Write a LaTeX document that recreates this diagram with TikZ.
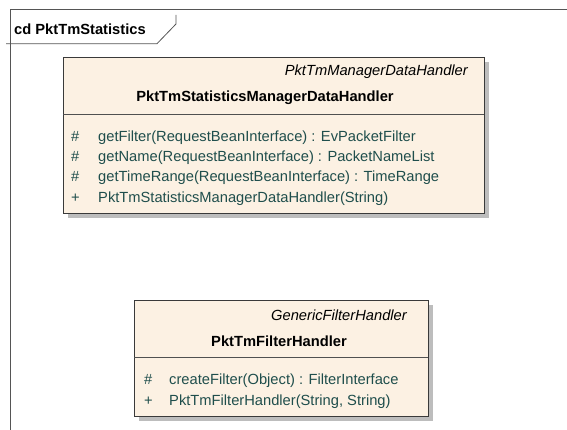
\documentclass[tikz,border=0pt]{standalone}
\usepackage{fontspec}
\setmainfont{Liberation Sans}
\definecolor{boxfill}{HTML}{FCF1E3}
\definecolor{boxline}{HTML}{3A3A3A}
\definecolor{sepline}{HTML}{505050}
\definecolor{frameline}{HTML}{555555}
\definecolor{shadowgray}{HTML}{BDBDBD}
\definecolor{optext}{HTML}{1F4E4C}
\tikzset{
  umlbox/.style={draw=boxline, fill=boxfill, line width=0.9pt},
  umlshadow/.style={fill=shadowgray, draw=none},
  sepstyle/.style={draw=sepline, line width=0.8pt},
  framestyle/.style={draw=frameline, line width=0.8pt},
  txt/.style={inner sep=0pt, font=\fontsize{14.7}{17}\selectfont},
  stereo/.style={txt, anchor=base east, font=\fontsize{14.7}{17}\selectfont\itshape},
  cname/.style={txt, anchor=base, font=\fontsize{14.7}{17}\selectfont\bfseries},
  vis/.style={txt, anchor=base west, text=optext},
  op/.style={txt, anchor=base west, text=optext},
}
\begin{document}
\begin{tikzpicture}[x=1pt,y=-1pt]
\useasboundingbox (0,0) rectangle (567,430);
% frame
\coordinate (ftl) at (10.5,9.5);
\coordinate (ftr) at (567,9.5);
\coordinate (fbl) at (10.5,430);
\coordinate (tabl) at (6,43.7);
\coordinate (tabb) at (157,43.7);
\coordinate (tabd) at (176,24);
\coordinate (tabt) at (176,15);
\draw[framestyle] (ftr) -- (ftl) -- (fbl);
\draw[framestyle] (tabl) -- (tabb) -- (tabd) -- (tabt);
\node[txt, anchor=base west, font=\fontsize{14.7}{17}\selectfont\bfseries] (title) at (14,35) {cd PktTmStatistics};

% class 1
\fill[umlshadow] (68,62) rectangle (489,218);
\node[umlbox, anchor=north west, minimum width=421pt, minimum height=156pt, inner sep=0pt] (c1) at (63,57) {};
\coordinate (c1sl) at (63,114);
\coordinate (c1sr) at (484,114);
\draw[sepstyle] (c1sl) -- (c1sr);
\node[stereo] (c1st) at (468,76) {PktTmManagerDataHandler};
\node[cname] (c1n) at (265,102) {PktTmStatisticsManagerDataHandler};
\node[vis] (c1v1) at (71,141.5) {\#};
\node[op] (c1o1) at (98,141.5) {getFilter(RequestBeanInterface) : EvPacketFilter};
\node[vis] (c1v2) at (71,161.5) {\#};
\node[op] (c1o2) at (98,161.5) {getName(RequestBeanInterface) : PacketNameList};
\node[vis] (c1v3) at (71,181.5) {\#};
\node[op] (c1o3) at (98,181.5) {getTimeRange(RequestBeanInterface) : TimeRange};
\node[vis] (c1v4) at (71,202.5) {+};
\node[op] (c1o4) at (98,202.5) {PktTmStatisticsManagerDataHandler(String)};

% class 2
\fill[umlshadow] (139,305) rectangle (433,421);
\node[umlbox, anchor=north west, minimum width=294pt, minimum height=116pt, inner sep=0pt] (c2) at (134,300) {};
\coordinate (c2sl) at (134,357);
\coordinate (c2sr) at (428,357);
\draw[sepstyle] (c2sl) -- (c2sr);
\node[stereo] (c2st) at (407,320) {GenericFilterHandler};
\node[cname] (c2n) at (279,346) {PktTmFilterHandler};
\node[vis] (c2v1) at (144,384.5) {\#};
\node[op] (c2o1) at (169,384.5) {createFilter(Object) : FilterInterface};
\node[vis] (c2v2) at (144,405.5) {+};
\node[op] (c2o2) at (169,405.5) {PktTmFilterHandler(String, String)};
\end{tikzpicture}
\end{document}
